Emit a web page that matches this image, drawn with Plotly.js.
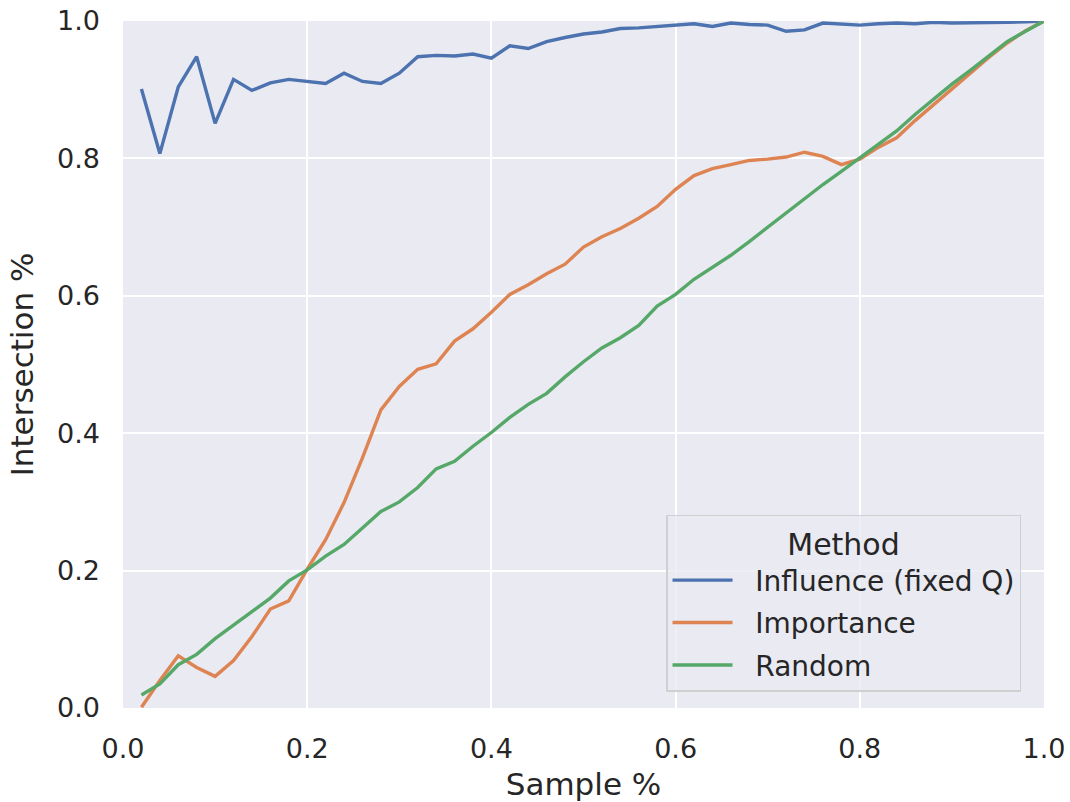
<!DOCTYPE html>
<html>
<head>
<meta charset="utf-8">
<script src="https://cdn.plot.ly/plotly-3.0.1.min.js"></script>
<style>html,body{margin:0;padding:0;background:#fff;}#chart{width:1070px;height:802px;}</style>
</head>
<body>
<div id="chart"></div>
<script>
var samplePct = [0.02,0.04,0.06,0.08,0.10,0.12,0.14,0.16,0.18,0.20,
                 0.22,0.24,0.26,0.28,0.30,0.32,0.34,0.36,0.38,0.40,
                 0.42,0.44,0.46,0.48,0.50,0.52,0.54,0.56,0.58,0.60,
                 0.62,0.64,0.66,0.68,0.70,0.72,0.74,0.76,0.78,0.80,
                 0.82,0.84,0.86,0.88,0.90,0.92,0.94,0.96,0.98,1.00];

var influence = [0.901,0.807,0.904,0.948,0.851,0.915,0.899,0.910,0.915,0.912,
                 0.909,0.924,0.912,0.909,0.924,0.948,0.950,0.949,0.952,0.946,
                 0.964,0.960,0.970,0.976,0.981,0.984,0.989,0.990,0.992,0.994,
                 0.996,0.992,0.997,0.995,0.994,0.985,0.987,0.997,0.995,0.994,
                 0.996,0.997,0.996,0.998,0.997,0.997,0.997,0.998,0.999,1.000];

var importance = [0.001,0.040,0.076,0.059,0.046,0.069,0.104,0.144,0.156,0.202,
                  0.245,0.299,0.364,0.434,0.468,0.493,0.501,0.534,0.552,0.576,
                  0.602,0.616,0.632,0.646,0.671,0.686,0.698,0.713,0.730,0.755,
                  0.775,0.785,0.791,0.797,0.799,0.802,0.809,0.803,0.791,0.799,
                  0.816,0.830,0.855,0.878,0.902,0.925,0.947,0.968,0.986,1.000];

var random = [0.019,0.035,0.063,0.078,0.101,0.121,0.140,0.160,0.185,0.201,
              0.221,0.238,0.262,0.286,0.300,0.321,0.348,0.359,0.381,0.401,
              0.423,0.442,0.458,0.482,0.504,0.524,0.539,0.557,0.585,0.602,
              0.624,0.641,0.659,0.679,0.700,0.720,0.742,0.762,0.781,0.801,
              0.821,0.840,0.864,0.886,0.908,0.928,0.949,0.970,0.985,1.000];

var seriesNames = ["Influence (fixed Q)", "Importance", "Random"];
var seriesColors = ["#4c72b0", "#dd8452", "#55a868"];
var seriesValues = [influence, importance, random];

var xTicks = [0.0,0.2,0.4,0.6,0.8,1.0];
var xTickText = ["0.0","0.2","0.4","0.6","0.8","1.0"];
var yTicks = [0.0,0.2,0.4,0.6,0.8,1.0];
var yTickText = ["0.0","0.2","0.4","0.6","0.8","1.0"];

var gap = "\u00a0\u00a0";
var traces = seriesNames.map(function(n, i){
  return {
    x: samplePct, y: seriesValues[i], name: gap + n, type: 'scatter', mode: 'lines',
    line: {color: seriesColors[i], width: 3.4},
    legendgroup: 'g' + i
  };
});

var font = "DejaVu Sans, sans-serif";
var txt = "#262626";

var layout = {
  width: 1070, height: 802,
  margin: {l: 123, r: 26, t: 21, b: 94, pad: 0},
  paper_bgcolor: "#ffffff",
  plot_bgcolor: "#eaeaf2",
  font: {family: font, color: txt, size: 27},
  showlegend: true,
  xaxis: {
    range: [0, 1], tickvals: xTicks, ticktext: xTickText,
    showgrid: true, gridcolor: "#ffffff", gridwidth: 2,
    zeroline: false, showline: false, ticks: "",
    ticklabelstandoff: 22,
    tickfont: {size: 27, color: txt, family: font},
    title: {text: "Sample %", font: {size: 31, color: txt, family: font}, standoff: 12}
  },
  yaxis: {
    range: [0, 1], tickvals: yTicks, ticktext: yTickText,
    showgrid: true, gridcolor: "#ffffff", gridwidth: 2,
    zeroline: false, showline: false, ticks: "",
    ticklabelstandoff: 22,
    tickfont: {size: 27, color: txt, family: font},
    title: {text: "Intersection %", font: {size: 31, color: txt, family: font}, standoff: 14}
  },
  legend: {
    x: 0.5896, y: 0.281, xanchor: "left", yanchor: "top",
    bgcolor: "rgba(234,234,242,0.8)", bordercolor: "#d0d0d0", borderwidth: 1.5,
    font: {size: 28, color: txt, family: font},
    title: {text: "Method", side: "top center", font: {size: 30, color: txt, family: font}},
    itemwidth: 60, traceorder: "grouped", tracegroupgap: 3
  }
};

Plotly.newPlot("chart", traces, layout, {displayModeBar: false, staticPlot: true});
</script>
</body>
</html>
